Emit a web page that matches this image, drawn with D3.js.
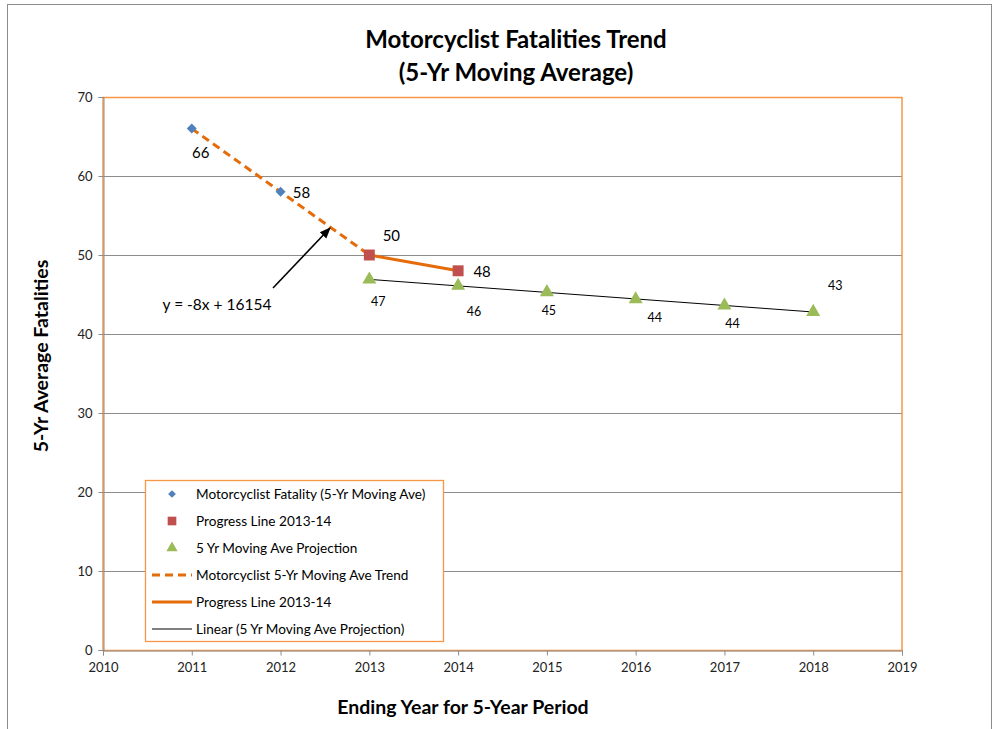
<!DOCTYPE html>
<html><head><meta charset="utf-8">
<script src="https://cdn.jsdelivr.net/npm/d3@7"></script>
<style>body{margin:0;background:#fff}svg{display:block;font-family:Lato,'Open Sans',sans-serif}</style>
</head><body><svg id="c" width="1000" height="729"></svg>
<script>
const yearTicks = [2010,2011,2012,2013,2014,2015,2016,2017,2018,2019];
const valueTicks = [0,10,20,30,40,50,60,70];
const fatalYears = [2011,2012];
const fatalValues = [66,58];
const trendYears = [2011,2012,2013];
const trendValues = [66,58,50];
const progressYears = [2013,2014];
const progressValues = [50,48];
const projYears = [2013,2014,2015,2016,2017,2018];
const projValues = [46.9,46.1,45.3,44.4,43.6,42.8];
const projLabels = ["47","46","45","44","44","43"];
const legendLabels = ["Motorcyclist Fatality (5-Yr Moving Ave)","Progress Line 2013-14","5 Yr Moving Ave Projection","Motorcyclist 5-Yr Moving Ave Trend","Progress Line 2013-14","Linear (5 Yr Moving Ave Projection)"];

const svg = d3.select("#c");
const x = d3.scaleLinear().domain([2010,2019]).range([103,902]);
const y = d3.scaleLinear().domain([0,70]).range([650,97]);
const ORANGE = "#E46C0A", BLUE = "#4F81BD", RED = "#C0504D", GREEN = "#9BBB59", BORDER="#F79646";

// outer border
svg.append("rect").attr("x",7.5).attr("y",4.5).attr("width",984).attr("height",740).attr("fill","none").attr("stroke","#8c8c8c");

// title
svg.append("text").attr("x",516).attr("y",48).attr("text-anchor","middle").attr("font-size",24).attr("font-weight","bold").attr("fill","#000").text("Motorcyclist Fatalities Trend");
svg.append("text").attr("x",516).attr("y",81).attr("text-anchor","middle").attr("font-size",24).attr("font-weight","bold").attr("fill","#000").text("(5-Yr Moving Average)");

// gridlines
svg.append("g").selectAll("line").data(valueTicks.filter(v=>v>0&&v<70)).join("line")
  .attr("x1",x(2010)).attr("x2",x(2019)).attr("y1",d=>Math.round(y(d))+0.5).attr("y2",d=>Math.round(y(d))+0.5)
  .attr("stroke","#8c8c8c").attr("stroke-width",1);

// plot area border (orange)
svg.append("rect").attr("x",x(2010)).attr("y",Math.round(y(70))+0.5).attr("width",x(2019)-x(2010)).attr("height",y(0)-y(70))
  .attr("fill","none").attr("stroke",BORDER).attr("stroke-width",1.5);

// axes
const yAxis = d3.axisLeft(y).tickValues(valueTicks).tickSize(5).tickPadding(6).tickFormat(d3.format("d"));
const gy = svg.append("g").attr("transform",`translate(${Math.round(x(2010))+0.5},0)`).call(yAxis);
const xAxis = d3.axisBottom(x).tickValues(yearTicks).tickSize(5).tickPadding(7).tickFormat(d3.format("d"));
const gx = svg.append("g").attr("transform",`translate(0,${Math.round(y(0))+0.5})`).call(xAxis);
[gx,gy].forEach(g=>{
  g.select(".domain").attr("stroke","#8c8c8c");
  g.selectAll(".tick line").attr("stroke","#8c8c8c");
  g.selectAll(".tick text").attr("font-size",13).attr("fill","#222").attr("font-family","Lato,sans-serif");
});

// axis titles
svg.append("text").attr("transform","translate(48,356) rotate(-90)").attr("text-anchor","middle").attr("font-size",19.5).attr("font-weight","bold").text("5-Yr Average Fatalities");
svg.append("text").attr("x",463).attr("y",714).attr("text-anchor","middle").attr("font-size",19.5).attr("font-weight","bold").text("Ending Year for 5-Year Period");

// trend dashed line
const line = d3.line().x(d=>x(d[0])).y(d=>y(d[1]));
svg.append("path").attr("d",line(d3.zip(trendYears,trendValues))).attr("fill","none").attr("stroke",ORANGE).attr("stroke-width",3).attr("stroke-dasharray","8,5");

// linear regression of projection
const mx = d3.mean(projYears), my = d3.mean(projValues);
const slope = d3.sum(projYears.map((v,i)=>(v-mx)*(projValues[i]-my)))/d3.sum(projYears.map(v=>(v-mx)*(v-mx)));
const icpt = my - slope*mx;
const regX = d3.extent(projYears);
svg.append("path").attr("d",line(regX.map(v=>[v,icpt+slope*v]))).attr("fill","none").attr("stroke","#000").attr("stroke-width",1);

// progress line
svg.append("path").attr("d",line(d3.zip(progressYears,progressValues))).attr("fill","none").attr("stroke",ORANGE).attr("stroke-width",3);

// markers
const sym = (type,size)=>d3.symbol().type(type).size(size)();
svg.append("g").selectAll("path").data(d3.zip(fatalYears,fatalValues)).join("path")
  .attr("d",sym(d3.symbolSquare,50)).attr("transform",d=>`translate(${x(d[0])},${y(d[1])}) rotate(45)`).attr("fill",BLUE);
svg.append("g").selectAll("path").data(d3.zip(progressYears,progressValues)).join("path")
  .attr("d",sym(d3.symbolSquare,120)).attr("transform",d=>`translate(${x(d[0])},${y(d[1])})`).attr("fill",RED);
svg.append("g").selectAll("path").data(d3.zip(projYears,projValues)).join("path")
  .attr("d",sym(d3.symbolTriangle,85)).attr("transform",d=>`translate(${x(d[0])},${y(d[1])})`).attr("fill",GREEN);

// data labels
const big = [[fatalYears[0],fatalValues[0],9,29,"66"],[fatalYears[1],fatalValues[1],21,6,"58"],[progressYears[0],progressValues[0],22,-14,"50"],[progressYears[1],progressValues[1],24,6,"48"]];
svg.append("g").selectAll("text").data(big).join("text").attr("x",d=>x(d[0])+d[2]).attr("y",d=>y(d[1])+d[3]).attr("text-anchor","middle").attr("font-size",15).attr("fill","#000").text(d=>d[4]);
const projOff = [[9,27],[16,30],[2,23],[19,23],[8,22],[22,-22]];
svg.append("g").selectAll("text").data(projYears.map((v,i)=>[v,projValues[i],projOff[i],projLabels[i]])).join("text")
  .attr("x",d=>x(d[0])+d[2][0]).attr("y",d=>y(d[1])+d[2][1]).attr("text-anchor","middle").attr("font-size",12.5).attr("fill","#000").text(d=>d[3]);

// equation + arrow
svg.append("defs").append("marker").attr("id","ah").attr("viewBox","0 0 10 10").attr("refX",9).attr("refY",5).attr("markerWidth",7).attr("markerHeight",7).attr("orient","auto")
  .append("path").attr("d","M0,1 L10,5 L0,9 z").attr("fill","#000");
svg.append("line").attr("x1",273).attr("y1",288).attr("x2",330).attr("y2",228).attr("stroke","#000").attr("stroke-width",1.6).attr("marker-end","url(#ah)");
svg.append("text").attr("x",217).attr("y",310).attr("text-anchor","middle").attr("font-size",15.5).text("y = -8x + 16154");

// legend
const lg = svg.append("g");
lg.append("rect").attr("x",145.5).attr("y",480.5).attr("width",298).attr("height",161).attr("fill","#fff").attr("stroke",BORDER).attr("stroke-width",1.3);
const ly = i=>494+i*27;
lg.selectAll("text").data(legendLabels).join("text").attr("x",196).attr("y",(d,i)=>ly(i)+5).attr("font-size",13.6).attr("fill","#000").text(d=>d);
lg.append("path").attr("d",sym(d3.symbolSquare,30)).attr("transform",`translate(172,${ly(0)}) rotate(45)`).attr("fill",BLUE);
lg.append("path").attr("d",sym(d3.symbolSquare,75)).attr("transform",`translate(172,${ly(1)})`).attr("fill",RED);
lg.append("path").attr("d",sym(d3.symbolTriangle,55)).attr("transform",`translate(172,${ly(2)})`).attr("fill",GREEN);
lg.append("line").attr("x1",152).attr("x2",192).attr("y1",ly(3)).attr("y2",ly(3)).attr("stroke",ORANGE).attr("stroke-width",3).attr("stroke-dasharray","8,5");
lg.append("line").attr("x1",152).attr("x2",192).attr("y1",ly(4)).attr("y2",ly(4)).attr("stroke",ORANGE).attr("stroke-width",3);
lg.append("line").attr("x1",152).attr("x2",192).attr("y1",ly(5)).attr("y2",ly(5)).attr("stroke","#000").attr("stroke-width",1);
</script></body></html>
